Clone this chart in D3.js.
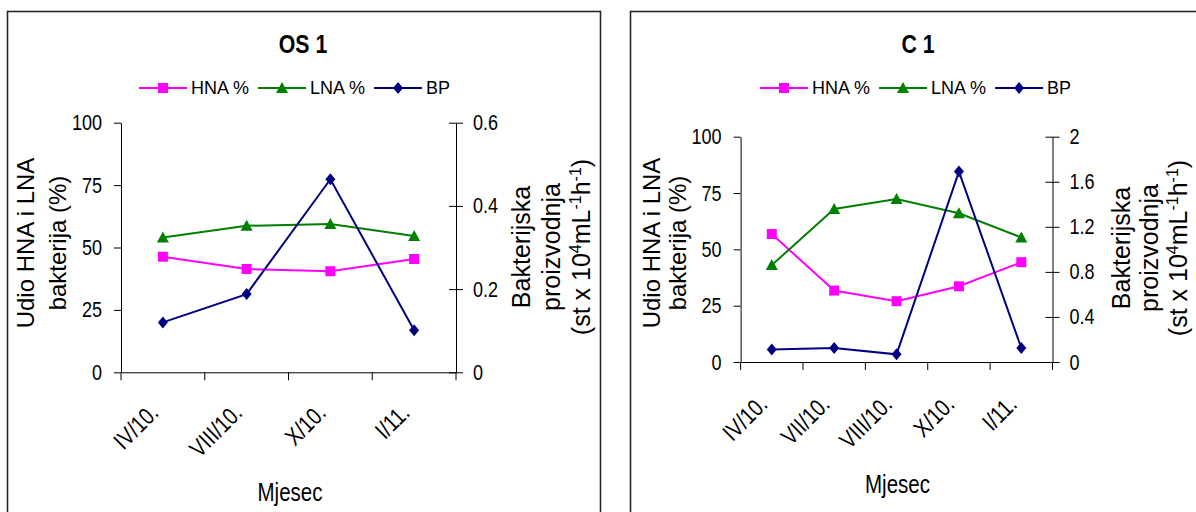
<!DOCTYPE html>
<html><head><meta charset="utf-8">
<script src="https://cdn.jsdelivr.net/npm/d3@7"></script>
<style>body{margin:0;background:#fff}svg{display:block}</style>
</head><body>
<svg id="chart" width="1196" height="512"></svg>
<script>
// ---- data ----
const os1Months = ["IV/10.", "VIII/10.", "X/10.", "I/11."];
const os1HNA = [46.3, 41.4, 40.5, 45.4];
const os1LNA = [54.0, 58.7, 59.4, 54.6];
const os1BP  = [0.120, 0.188, 0.464, 0.101];

const c1Months = ["IV/10.", "VII/10.", "VIII/10.", "X/10.", "I/11."];
const c1HNA = [56.8, 31.7, 27.0, 33.6, 44.3];
const c1LNA = [43.0, 67.9, 72.3, 66.0, 55.3];
const c1BP  = [0.110, 0.124, 0.068, 1.69, 0.124];

const leftTicks = [0, 25, 50, 75, 100];
const os1RightTicks = [0, 0.2, 0.4, 0.6];
const c1RightTicks = [0, 0.4, 0.8, 1.2, 1.6, 2];
const seriesNames = ["HNA %", "LNA %", "BP"];

// ---- styles ----
const REG = "'Liberation Sans',Arial,sans-serif";
const NARROW_CAND = "'Liberation Sans Narrow','Arial Narrow'";
const COLORS = {"HNA %": "#FF00FF", "LNA %": "#008000", "BP": "#000080"};
const SHAPES = {
  "HNA %": "M-5,-5H5V5H-5Z",
  "LNA %": "M0,-6L6,5L-6,5Z",
  "BP": "M0,-6L5,0L0,6L-5,0Z"
};

const svg = d3.select("#chart");

// detect a real narrow font; otherwise condense the regular one
const probe = svg.append("text").style("font-size", "40px").style("font-family", REG).text("1000 Mjesec");
const wReg = probe.node().getComputedTextLength();
probe.style("font-family", NARROW_CAND + ",monospace");
const wNar = probe.node().getComputedTextLength();
probe.style("font-family", "monospace");
const wMono = probe.node().getComputedTextLength();
probe.remove();
const hasNarrow = Math.abs(wNar - wMono) > 0.5 && wNar < wReg * 0.9;
const NARROW = hasNarrow ? NARROW_CAND + "," + REG : REG;
const SQ = hasNarrow ? 1 : 0.82;

function narrow(sel) {
  sel.each(function () {
    const t = d3.select(this);
    const x = +t.attr("x") || 0, y = +t.attr("y") || 0;
    const prev = t.attr("transform") || "";
    t.attr("x", 0).attr("y", 0)
      .attr("transform", `${prev} translate(${x},${y}) scale(${SQ},1)`)
      .style("font-family", NARROW);
  });
}

function panel(cfg) {
  const g = svg.append("g");
  g.append("rect")
    .attr("x", cfg.box[0]).attr("y", cfg.box[1])
    .attr("width", cfg.box[2]).attr("height", cfg.box[3])
    .attr("fill", "none").attr("stroke", "#262626").attr("stroke-width", 1.6);

  const x = d3.scaleBand().domain(cfg.months).range([cfg.x0, cfg.x1]);
  const yL = d3.scaleLinear().domain([0, 100]).range([cfg.y0, cfg.y1]);
  const yR = d3.scaleLinear().domain([0, cfg.rMax]).range([cfg.y0, cfg.y1]);

  // left axis
  const la = g.append("g").attr("transform", `translate(${cfg.x0},0)`)
    .call(d3.axisLeft(yL).tickValues(leftTicks).tickSize(7).tickSizeOuter(0).tickPadding(12));
  la.selectAll("text").style("font-size", "22px").attr("fill", "#000").call(narrow);

  // right axis (crossing ticks)
  const ra = g.append("g").attr("transform", `translate(${cfg.x1},0)`)
    .call(d3.axisRight(yR).tickValues(cfg.rTicks).tickSize(7).tickSizeOuter(0).tickPadding(10)
      .tickFormat(d => String(d)));
  ra.selectAll(".tick line").attr("x1", -7);
  ra.selectAll("text").style("font-size", "22px").attr("fill", "#000").call(narrow);

  // bottom axis: labels at band centres, ticks at band edges
  const ba = g.append("g").attr("transform", `translate(0,${cfg.y0})`)
    .call(d3.axisBottom(x).tickSize(0).tickSizeOuter(0));
  ba.selectAll("text")
    .attr("x", 0).attr("y", 0).attr("dy", 0)
    .attr("text-anchor", "end")
    .attr("transform", `translate(${cfg.lblDx},${cfg.lblDy}) rotate(-45)`)
    .style("font-size", "24px").attr("fill", "#000").call(narrow);
  const edges = cfg.months.map(m => x(m)).concat([x.range()[1]]);
  ba.selectAll("line.edge").data(edges).join("line").attr("class", "edge")
    .attr("x1", d => d).attr("x2", d => d).attr("y1", 0).attr("y2", 8)
    .attr("stroke", "#000");
  g.selectAll(".domain").attr("stroke", "#000");

  // series
  const cx = m => x(m) + x.bandwidth() / 2;
  const series = [
    {name: "HNA %", vals: cfg.hna, y: yL},
    {name: "LNA %", vals: cfg.lna, y: yL},
    {name: "BP", vals: cfg.bp, y: yR}
  ];
  series.forEach(s => {
    const pts = cfg.months.map((m, i) => [cx(m), s.y(s.vals[i])]);
    g.append("path").attr("d", d3.line()(pts))
      .attr("fill", "none").attr("stroke", COLORS[s.name]).attr("stroke-width", 2);
    g.selectAll(null).data(pts).join("path")
      .attr("d", SHAPES[s.name])
      .attr("transform", d => `translate(${d[0]},${d[1]})`)
      .attr("fill", COLORS[s.name]);
  });

  // title
  g.append("text").attr("x", cfg.titleX).attr("y", 53).attr("text-anchor", "middle")
    .style("font-size", "26px").style("font-weight", "bold")
    .text(cfg.title).call(narrow);

  // legend
  let lx = cfg.legX;
  const ly = 88;
  seriesNames.forEach(n => {
    g.append("line").attr("x1", lx).attr("x2", lx + 48).attr("y1", ly).attr("y2", ly)
      .attr("stroke", COLORS[n]).attr("stroke-width", 2);
    g.append("path").attr("d", SHAPES[n]).attr("transform", `translate(${lx + 24},${ly})`)
      .attr("fill", COLORS[n]);
    const t = g.append("text").attr("x", lx + 52).attr("y", ly).attr("dy", "0.36em")
      .style("font-family", REG).style("font-size", "18px").text(n);
    lx += 52 + t.node().getComputedTextLength() + 9;
  });

  // left y title
  cfg.yLeftLines.forEach((line, i) => {
    g.append("text").attr("text-anchor", "middle")
      .attr("transform", `translate(${cfg.yLeftBase[i]},${cfg.yLeftCy}) rotate(-90)`)
      .style("font-family", REG).style("font-size", "24px").text(line);
  });

  // right y title
  ["Bakterijska", "proizvodnja"].forEach((line, i) => {
    g.append("text").attr("text-anchor", "middle")
      .attr("transform", `translate(${cfg.yRightBase[i]},${cfg.yRightCy}) rotate(-90)`)
      .style("font-family", REG).style("font-size", "25px").text(line);
  });
  const u = g.append("text").attr("text-anchor", "middle")
    .attr("transform", `translate(${cfg.yRightBase[2]},${cfg.yRightCy}) rotate(-90)`)
    .style("font-family", REG).style("font-size", "25px");
  [["(st x 10", 0], ["4", -1], ["mL", 1], ["-1", -1], ["h", 1], ["-1", -1], [")", 1]].forEach(([s, sh]) => {
    const ts = u.append("tspan").text(s);
    if (sh === -1) ts.attr("dy", -9).style("font-size", "16px");
    else if (sh === 1) ts.attr("dy", 9);
  });

  // x title
  g.append("text").attr("x", cfg.xTitleX).attr("y", cfg.xTitleY).attr("text-anchor", "middle")
    .style("font-size", "25px").text("Mjesec").call(narrow);
}

panel({
  box: [7.5, 11.5, 593, 530],
  months: os1Months, hna: os1HNA, lna: os1LNA, bp: os1BP,
  x0: 121, x1: 456, y0: 372.3, y1: 122.7, rMax: 0.6, rTicks: os1RightTicks,
  title: "OS 1", titleX: 303, legX: 139,
  yLeftLines: ["Udio HNA i LNA", "bakterija (%)"], yLeftBase: [34, 66], yLeftCy: 243,
  yRightBase: [530, 560, 590], yRightCy: 247,
  lblDx: -3, lblDy: 42, xTitleX: 290, xTitleY: 501
});

panel({
  box: [630.5, 11.5, 600, 530],
  months: c1Months, hna: c1HNA, lna: c1LNA, bp: c1BP,
  x0: 740.6, x1: 1052.5, y0: 362, y1: 136.7, rMax: 2, rTicks: c1RightTicks,
  title: "C 1", titleX: 918, legX: 760,
  yLeftLines: ["Udio HNA i LNA", "bakterija (%)"], yLeftBase: [660, 686], yLeftCy: 243,
  yRightBase: [1130, 1158, 1187], yRightCy: 248,
  lblDx: -3, lblDy: 44, xTitleX: 897.5, xTitleY: 493
});
</script>
</body></html>
